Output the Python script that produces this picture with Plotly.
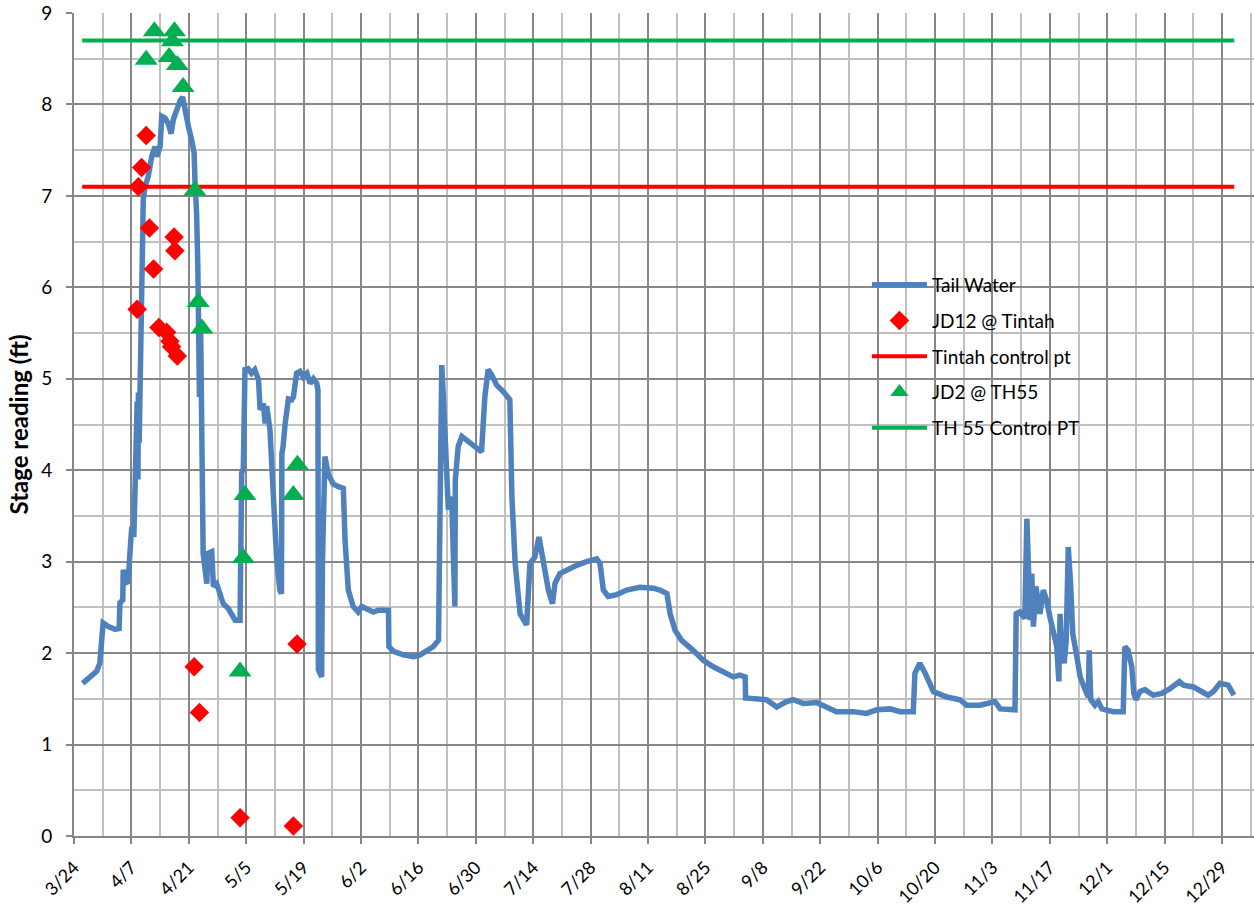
import plotly.graph_objects as go
import pandas as pd

START = "2011-03-24"

# Tail Water: days since 3/24 and stage (ft)
tw_day = [2.1, 5.5, 6.3, 7.1, 8.4, 10.0, 11.0, 11.2, 11.9, 12.0, 12.7, 13.2, 13.8, 14.1, 14.6, 14.9,
          15.1, 15.4, 15.6, 15.7, 15.9, 16.1, 16.3, 16.6, 16.9, 17.3, 18.1, 18.95, 19.75, 20.2, 21.0,
          21.4, 22.2, 23.0, 23.7, 24.2, 25.0, 25.85, 26.5, 27.1, 27.9, 28.7, 29.3, 29.5, 29.9, 30.2,
          30.3, 30.6, 30.9, 31.3, 31.5, 32.4, 32.6, 33.6, 34.0, 34.8, 35.6, 36.4, 37.6, 38.5, 39.3,
          40.5, 40.9, 41.3, 41.7, 42.5, 43.3, 44.1, 45.0, 45.4, 46.2, 46.6, 47.0, 47.8, 48.6, 49.4,
          50.2, 50.6, 50.7, 51.0, 51.5, 52.3, 53.1, 53.5, 54.3, 55.1, 55.9, 56.8, 57.6, 58.4, 59.2,
          59.5, 59.6, 60.4, 60.6, 61.2, 62.0, 63.2, 64.5, 65.7, 66.1, 66.9, 68.1, 69.3, 70.2, 71.4,
          73.0, 74.2, 76.7, 76.8, 77.9, 80.3, 82.8, 84.4, 86.0, 87.6, 88.9, 89.3, 89.7, 90.2, 91.3,
          92.1, 92.9, 93.0, 93.7, 94.6, 95.8, 97.4, 99.4, 100.2, 101.0, 101.9, 103.1, 104.7, 106.3,
          106.8, 107.6, 108.8, 110.4, 111.2, 112.4, 113.4, 114.5, 115.7, 116.7, 117.3, 118.5, 120.2,
          122.6, 125.0, 127.5, 128.3, 129.1, 130.3, 132.4, 134.8, 138.0, 141.3, 142.9, 144.6, 145.4,
          146.6, 148.2, 151.0, 153.5, 155.9, 158.4, 160.8, 162.4, 163.7, 163.8, 167.3, 168.9, 171.4,
          173.8, 175.4, 177.9, 181.1, 183.6, 186.0, 190.1, 193.3, 195.8, 199.0, 201.5, 204.7, 205.1,
          206.3, 207.6, 209.6, 212.9, 216.1, 217.7, 221.0, 224.6, 225.9, 229.5, 229.8, 230.7, 231.9,
          232.4, 233.2, 233.6, 234.0, 234.6, 235.6, 236.4, 237.2, 238.0, 238.9, 239.7, 240.2, 240.5,
          240.9, 241.5, 242.0, 242.5, 243.1, 243.6, 244.6, 245.4, 246.6, 247.4, 247.6, 248.0, 249.0,
          249.8, 250.7, 253.5, 255.9, 256.3, 257.1, 258.0, 258.5, 259.0, 260.0, 261.2, 263.2, 265.3,
          267.3, 269.6, 270.6, 273.0, 275.0, 276.6, 277.9, 279.5, 281.5, 282.9]
tw_val = [1.67, 1.80, 1.89, 2.33, 2.29, 2.26, 2.27, 2.55, 2.58, 2.91, 2.77, 2.78, 3.20, 3.38, 3.27, 3.71,
          4.10, 4.75, 3.90, 4.85, 4.30, 4.85, 5.60, 6.50, 6.96, 7.10, 7.21, 7.43, 7.54, 7.43, 7.54,
          7.87, 7.85, 7.79, 7.68, 7.83, 7.94, 8.04, 8.08, 7.97, 7.76, 7.61, 7.47, 7.17, 6.81, 6.23,
          5.50, 4.80, 5.50, 4.00, 3.09, 2.76, 3.09, 3.11, 2.73, 2.76, 2.67, 2.54, 2.49, 2.43, 2.36,
          2.36, 3.97, 4.02, 5.10, 5.11, 5.06, 5.10, 4.99, 4.66, 4.73, 4.51, 4.70, 4.44, 3.60, 3.05,
          2.69, 2.65, 4.18, 4.26, 4.51, 4.78, 4.77, 4.80, 5.06, 5.08, 5.02, 5.06, 4.95, 5.00, 4.95,
          4.88, 1.82, 1.74, 3.00, 4.15, 3.96, 3.85, 3.82, 3.80, 3.24, 2.69, 2.51, 2.45, 2.51, 2.49,
          2.45, 2.47, 2.47, 2.07, 2.02, 1.98, 1.96, 1.98, 2.03, 2.07, 2.14, 3.50, 5.15, 4.69, 3.57,
          3.71, 2.51, 3.89, 4.26, 4.37, 4.33, 4.28, 4.20, 4.80, 5.10, 5.04, 4.93, 4.86, 4.77,
          3.71, 2.98, 2.43, 2.31, 2.98, 3.05, 3.27, 2.98, 2.69, 2.54, 2.76, 2.87, 2.91,
          2.96, 3.00, 3.03, 2.98, 2.69, 2.62, 2.64, 2.69, 2.72, 2.71, 2.69, 2.65, 2.43,
          2.25, 2.14, 2.03, 1.92, 1.85, 1.80, 1.74, 1.76, 1.74, 1.51, 1.49, 1.49, 1.41,
          1.47, 1.49, 1.45, 1.46, 1.41, 1.36, 1.36, 1.34, 1.38, 1.39, 1.36, 1.36, 1.78,
          1.89, 1.78, 1.58, 1.52, 1.49, 1.43, 1.43, 1.47, 1.39, 1.38, 2.43, 2.45, 2.38,
          3.47, 2.36, 2.87, 2.29, 2.73, 2.43, 2.69, 2.58, 2.40, 2.21, 2.07, 1.69, 2.43,
          2.00, 1.89, 2.14, 3.16, 2.73, 2.21, 1.96, 1.74, 1.60, 1.52, 2.03, 1.49, 1.43,
          1.47, 1.39, 1.36, 1.36, 2.07, 2.03, 1.85, 1.56, 1.49, 1.58, 1.60, 1.54, 1.56,
          1.61, 1.69, 1.65, 1.63, 1.58, 1.54, 1.58, 1.67, 1.65, 1.54]

# JD12 @ Tintah
jd12_day = [15.4, 15.7, 16.5, 17.6, 18.4, 19.4, 20.7, 22.6, 23.4, 23.8, 24.4, 24.6, 25.2,
            29.3, 30.6, 40.5, 53.5, 54.4]
jd12_val = [5.76, 7.10, 7.31, 7.66, 6.65, 6.20, 5.56, 5.51, 5.41, 5.35, 6.55, 6.40, 5.25,
            1.85, 1.35, 0.20, 0.11, 2.10]

# JD2 @ TH55
jd2_day = [17.6, 19.6, 23.2, 24.0, 24.5, 25.2, 26.6, 29.5, 30.3, 31.2, 40.5, 41.3, 41.7, 53.5, 54.5]
jd2_val = [8.49, 8.80, 8.52, 8.69, 8.80, 8.43, 8.19, 7.06, 5.84, 5.55, 1.80, 3.04, 3.73, 3.73, 4.06]

# Control points
ctrl_day = [2, 283]
tintah_ctrl = [7.1, 7.1]
th55_ctrl = [8.7, 8.7]

x_end_day = 287.8
y_ticks = list(range(0, 10))


def to_dates(days):
    return [pd.Timestamp(START) + pd.to_timedelta(d, unit="D") for d in days]


FONT = "Lato, 'Open Sans', sans-serif"
DAY_MS = 86400000

fig = go.Figure()
fig.add_trace(go.Scatter(x=to_dates(tw_day), y=tw_val, mode="lines", name="Tail Water",
                         legendgroup="a",
                         line=dict(color="#4F81BD", width=5.5)))
fig.add_trace(go.Scatter(x=to_dates(jd12_day), y=jd12_val, mode="markers", name="JD12 @ Tintah",
                         legendgroup="b",
                         marker=dict(symbol="diamond", size=15, color="#FF0000")))
fig.add_trace(go.Scatter(x=to_dates(ctrl_day), y=tintah_ctrl, mode="lines", name="Tintah control pt",
                         legendgroup="c",
                         line=dict(color="#FF0000", width=4)))
fig.add_trace(go.Scatter(x=to_dates(jd2_day), y=jd2_val, mode="markers", name="JD2 @ TH55",
                         legendgroup="d",
                         marker=dict(symbol="triangle-up", size=20, color="#00B050")))
fig.add_trace(go.Scatter(x=to_dates(ctrl_day), y=th55_ctrl, mode="lines", name="TH 55 Control PT",
                         legendgroup="e",
                         line=dict(color="#00B050", width=4)))

fig.update_layout(
    width=1254, height=909,
    margin=dict(l=74, r=0, t=13, b=73),
    paper_bgcolor="white", plot_bgcolor="white",
    font=dict(family=FONT, size=19, color="#000000"),
    showlegend=True,
    legend=dict(x=0.672, y=0.6926, xanchor="left", yanchor="top",
                bgcolor="rgba(0,0,0,0)", font=dict(size=19, family=FONT),
                tracegroupgap=8, itemwidth=55),
)

fig.update_xaxes(
    type="date", automargin=False,
    range=[pd.Timestamp(START), pd.Timestamp(START) + pd.to_timedelta(x_end_day, unit="D")],
    tick0=START, dtick=14 * DAY_MS, tickformat="%-m/%-d", tickangle=-45,
    ticks="outside", ticklen=6, tickcolor="#868686", tickwidth=1.5, ticklabelstandoff=6,
    showgrid=True, gridcolor="#878787", gridwidth=1.5,
    minor=dict(dtick=7 * DAY_MS, tick0=START, showgrid=True, gridcolor="#C0C0C0", gridwidth=1.5),
    showline=True, linecolor="#868686", linewidth=2,
    tickfont=dict(size=18, family=FONT),
    zeroline=False,
)
fig.update_yaxes(
    range=[0, 9], tickvals=y_ticks, automargin=False,
    ticks="outside", ticklen=6, tickcolor="#868686", tickwidth=1.5, ticklabelstandoff=10,
    showgrid=True, gridcolor="#878787", gridwidth=1.5,
    minor=dict(dtick=0.5, showgrid=True, gridcolor="#C0C0C0", gridwidth=1.5),
    showline=True, linecolor="#868686", linewidth=2,
    zeroline=False,
    tickfont=dict(size=19, family=FONT),
    title=dict(text="<b>Stage reading (ft)</b>", font=dict(size=24, family=FONT), standoff=6),
)

# remove the browser's default 8px body margin so the figure sits at the page origin
fig.write_html("out.html", config={"displayModeBar": False},
               post_script="document.body.style.margin='0';")
